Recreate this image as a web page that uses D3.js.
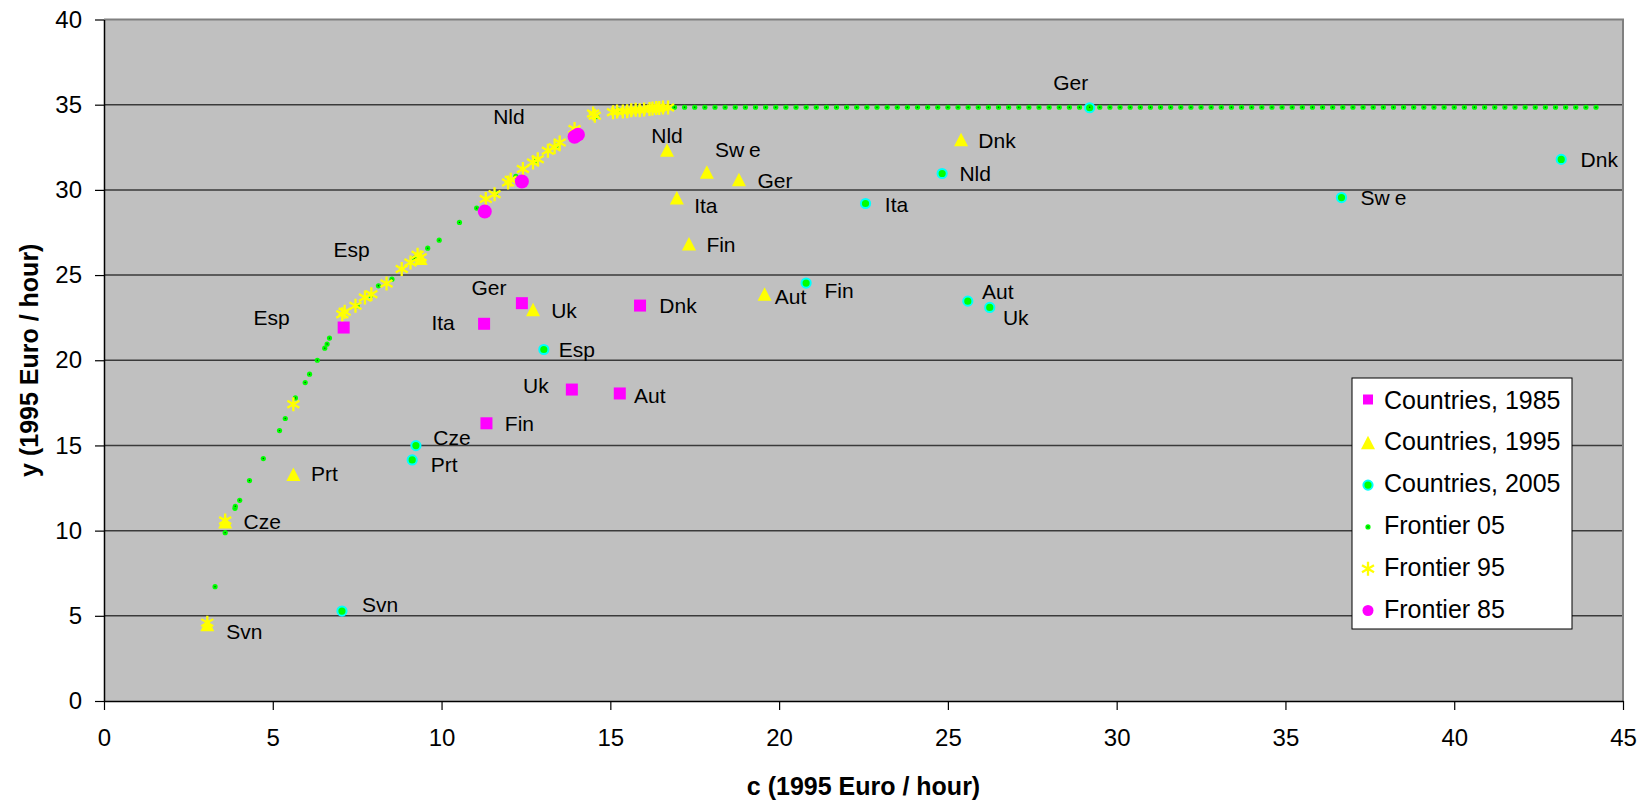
<!DOCTYPE html>
<html>
<head>
<meta charset="utf-8">
<script src="https://cdn.jsdelivr.net/npm/d3@7"></script>
<style>
  body { margin: 0; background: #fff; }
  svg text { font-family: "Liberation Sans", Arial, sans-serif; fill: #000; }
</style>
</head>
<body>
<div id="chart"></div>
<script>
// Countries, 1985
var names1985 = ["Esp", "Ita", "Ger", "Dnk", "Uk", "Aut", "Fin"];
var c1985 = [7.10, 11.26, 12.38, 15.88, 13.86, 15.28, 11.33];
var y1985 = [21.92, 22.14, 23.35, 23.21, 18.28, 18.05, 16.30];

// Countries, 1995
var names1995 = ["Esp", "Nld", "Swe", "Ger", "Ita", "Fin", "Aut", "Uk", "Dnk", "Prt", "Cze", "Svn"];
var c1995 = [9.38, 16.68, 17.86, 18.81, 16.97, 17.33, 19.57, 12.71, 25.39, 5.61, 3.59, 3.06];
var y1995 = [25.94, 32.30, 31.00, 30.57, 29.50, 26.80, 23.84, 22.94, 32.92, 13.27, 10.47, 4.44];

// Countries, 2005
var names2005 = ["Ger", "Nld", "Dnk", "Swe", "Aut", "Uk", "Ita", "Fin", "Esp", "Cze", "Prt", "Svn"];
var c2005 = [29.2, 24.83, 43.17, 36.66, 25.59, 26.24, 22.56, 20.80, 13.03, 9.24, 9.13, 7.05];
var y2005 = [34.82, 30.96, 31.79, 29.55, 23.47, 23.10, 29.20, 24.53, 20.63, 14.99, 14.15, 5.28];

// Frontier 05: rising part, then flat part at one level
var frontier05Curve = [
  [3.29, 6.71], [3.59, 9.88], [3.88, 11.31], [3.89, 11.43], [4.02, 11.78], [4.31, 12.94],
  [4.72, 14.23], [5.20, 15.87], [5.37, 16.58], [5.67, 17.79], [5.96, 18.69], [6.09, 19.18],
  [6.32, 20.00], [6.54, 20.71], [6.61, 20.95], [6.68, 21.30], [7.50, 23.20], [7.90, 23.80],
  [8.13, 24.37], [8.53, 24.76], [9.20, 26.00], [9.59, 26.58], [9.93, 27.05], [10.53, 28.09],
  [11.04, 28.93], [11.60, 29.80], [12.20, 30.80], [12.80, 31.70], [13.40, 32.60], [14.00, 33.40],
  [14.60, 34.30], [15.23, 34.70], [15.80, 34.75], [16.40, 34.82]
];
var frontier05FlatY = 34.85;
var frontier05FlatC = [
  16.9, 17.2, 17.5, 17.8, 18.1, 18.4, 18.7, 19.0, 19.3, 19.6,
  19.9, 20.2, 20.5, 20.8, 21.1, 21.4, 21.7, 22.0, 22.3, 22.6,
  22.9, 23.2, 23.5, 23.8, 24.1, 24.4, 24.7, 25.0, 25.3, 25.6,
  25.9, 26.2, 26.5, 26.8, 27.1, 27.4, 27.7, 28.0, 28.3, 28.6,
  28.9, 29.2, 29.5, 29.8, 30.1, 30.4, 30.7, 31.0, 31.3, 31.6,
  31.9, 32.2, 32.5, 32.8, 33.1, 33.4, 33.7, 34.0, 34.3, 34.6,
  34.9, 35.2, 35.5, 35.8, 36.1, 36.4, 36.7, 37.0, 37.3, 37.6,
  37.9, 38.2, 38.5, 38.8, 39.1, 39.4, 39.7, 40.0, 40.3, 40.6,
  40.9, 41.2, 41.5, 41.8, 42.1, 42.4, 42.7, 43.0, 43.3, 43.6,
  43.9, 44.2
];

// Frontier 95
var frontier95 = [
  [3.06, 4.60], [3.59, 10.60], [5.61, 17.42], [7.06, 22.70], [7.13, 22.85], [7.45, 23.20],
  [7.73, 23.68], [7.92, 23.88], [8.37, 24.50], [8.82, 25.35], [9.08, 25.74], [9.29, 26.19],
  [9.38, 26.05], [11.31, 29.46], [11.57, 29.75], [11.97, 30.43], [12.05, 30.60], [12.41, 31.22],
  [12.71, 31.61], [12.85, 31.80], [13.15, 32.30], [13.35, 32.50], [13.50, 32.78], [13.94, 33.57],
  [14.49, 34.48], [14.54, 34.35], [15.08, 34.55], [15.20, 34.60], [15.37, 34.60], [15.50, 34.62],
  [15.62, 34.68], [15.75, 34.70], [15.87, 34.68], [16.00, 34.72], [16.16, 34.74], [16.25, 34.78],
  [16.36, 34.80], [16.45, 34.80], [16.56, 34.84], [16.71, 34.84]
];

// Frontier 85 (the Nld 1985 point sits on it)
var frontier85 = [[11.28, 28.73], [12.38, 30.49], [13.94, 33.12], [14.04, 33.24]];
var names85 = ["", "", "", "Nld"];

var legendLabels = ["Countries, 1985", "Countries, 1995", "Countries, 2005", "Frontier 05", "Frontier 95", "Frontier 85"];

// label placement (pixels from the marker to the label centre)
var labelOffsets = {
  "1985": {Esp: [-72, -10], Ita: [-41, -1], Ger: [-33, -16], Dnk: [38, 0], Uk: [-36, -4], Aut: [30, 2], Fin: [33, 0]},
  "85": {Nld: [-69, -18]},
  "1995": {Esp: [-69, -10], Nld: [0, -15], Swe: [31, -23], Ger: [36, 0], Ita: [29, 7], Fin: [32, 0], Aut: [26, 2], Uk: [31, 0], Dnk: [36, 0], Prt: [31, -1], Cze: [37, -1], Svn: [37, 6]},
  "2005": {Ger: [-19, -25], Nld: [33, 0], Dnk: [38, 0], Swe: [42, 0], Aut: [30, -10], Uk: [26, 10], Ita: [31, 1], Fin: [33, 7], Esp: [33, 0], Cze: [36, -8], Prt: [32, 5], Svn: [38, -7]}
};

var width = 1646,
    height = 800;

var plotLeft = 104, plotRight = 1623, plotTop = 19.5, plotBottom = 701;

var x = d3.scaleLinear().domain([0, 45]).range([plotLeft, plotRight]);
var y = d3.scaleLinear().domain([0, 40]).range([plotBottom, plotTop]);

var svg = d3.select("#chart").append("svg")
    .attr("width", width)
    .attr("height", height);

// plot area
svg.append("rect")
    .attr("x", plotLeft).attr("y", plotTop)
    .attr("width", plotRight - plotLeft).attr("height", plotBottom - plotTop)
    .attr("fill", "#c0c0c0");

// gridlines
svg.append("g").selectAll("line")
    .data(y.ticks(8).filter(function(d){ return d > 0 && d < 40; }))
  .enter().append("line")
    .attr("x1", plotLeft).attr("x2", plotRight)
    .attr("y1", function(d){ return y(d); })
    .attr("y2", function(d){ return y(d); })
    .attr("stroke", "#3a3a3a")
    .attr("stroke-width", 1.5);

// top and right border
svg.append("path")
    .attr("d", "M" + plotLeft + "," + plotTop + "H" + plotRight + "V" + plotBottom)
    .attr("fill", "none")
    .attr("stroke", "#808080")
    .attr("stroke-width", 2);

// axes
var yAxis = svg.append("g")
    .attr("transform", "translate(" + plotLeft + ",0)")
    .call(d3.axisLeft(y).ticks(8).tickSize(9).tickPadding(13).tickSizeOuter(0));
var xAxis = svg.append("g")
    .attr("transform", "translate(0," + plotBottom + ")")
    .call(d3.axisBottom(x).ticks(9).tickSize(9).tickPadding(19).tickSizeOuter(0));

[yAxis, xAxis].forEach(function(a){
  a.select(".domain").attr("stroke", "#000").attr("stroke-width", 1.5);
  a.selectAll(".tick line").attr("stroke", "#000").attr("stroke-width", 1.2);
  a.selectAll(".tick text")
      .style("font-family", "'Liberation Sans', Arial, sans-serif")
      .style("font-size", "24px")
      .attr("fill", "#000");
});

// axis titles
svg.append("text")
    .attr("x", (plotLeft + plotRight) / 2)
    .attr("y", 795)
    .attr("text-anchor", "middle")
    .style("font-size", "25px")
    .style("font-weight", "bold")
    .text("c (1995 Euro / hour)");

svg.append("text")
    .attr("transform", "translate(38," + ((plotTop + plotBottom) / 2) + ") rotate(-90)")
    .attr("text-anchor", "middle")
    .style("font-size", "25px")
    .style("font-weight", "bold")
    .text("y (1995 Euro / hour)");

// marker drawing helpers
function square(g, px, py){
  g.append("rect").attr("x", px - 6).attr("y", py - 6).attr("width", 12).attr("height", 12).attr("fill", "#ff00ff");
}
function triangle(g, px, py){
  g.append("path").attr("d", "M" + px + "," + (py - 7.5) + "L" + (px + 7) + "," + (py + 6) + "L" + (px - 7) + "," + (py + 6) + "Z").attr("fill", "#ffff00");
}
function ring(g, px, py){
  g.append("circle").attr("cx", px).attr("cy", py).attr("r", 4.6).attr("fill", "#00ff00").attr("stroke", "#00ffff").attr("stroke-width", 2);
}
function dot(g, px, py){
  g.append("circle").attr("cx", px).attr("cy", py).attr("r", 2.6).attr("fill", "#00ff00");
  g.append("circle").attr("cx", px).attr("cy", py).attr("r", 0.7).attr("fill", "#005500");
}
function star(g, px, py){
  g.append("path")
      .attr("transform", "translate(" + px + "," + py + ")")
      .attr("d", "M0,-7V7M-6,-3.5L6,3.5M-6,3.5L6,-3.5")
      .attr("stroke", "#ffff00").attr("stroke-width", 2.3).attr("fill", "none");
}
function bigDot(g, px, py){
  g.append("circle").attr("cx", px).attr("cy", py).attr("r", 7).attr("fill", "#ff00ff");
}

var marks = svg.append("g");

c1985.forEach(function(c, i){ square(marks, x(c), y(y1985[i])); });
c1995.forEach(function(c, i){ triangle(marks, x(c), y(y1995[i])); });
c2005.forEach(function(c, i){ ring(marks, x(c), y(y2005[i])); });
frontier05Curve.forEach(function(d){ dot(marks, x(d[0]), y(d[1])); });
frontier05FlatC.forEach(function(c){ dot(marks, x(c), y(frontier05FlatY)); });
frontier95.forEach(function(d){ star(marks, x(d[0]), y(d[1])); });
frontier85.forEach(function(d){ bigDot(marks, x(d[0]), y(d[1])); });

// data labels
var labels = svg.append("g").style("font-size", "21px");
function addLabels(names, cs, ys, key){
  names.forEach(function(n, i){
    if (!n) return;
    var off = labelOffsets[key][n];
    var t = labels.append("text")
        .attr("x", x(cs[i]) + off[0])
        .attr("y", y(ys[i]) + off[1])
        .attr("dy", "0.36em")
        .attr("text-anchor", "middle");
    if (n === "Swe") {
      t.append("tspan").text("Sw");
      t.append("tspan").attr("dx", 5).text("e");
    } else {
      t.text(n);
    }
  });
}
addLabels(names1985, c1985, y1985, "1985");
addLabels(names85, frontier85.map(function(d){ return d[0]; }), frontier85.map(function(d){ return d[1]; }), "85");
addLabels(names1995, c1995, y1995, "1995");
addLabels(names2005, c2005, y2005, "2005");

// legend
var legend = svg.append("g");
legend.append("rect")
    .attr("x", 1352).attr("y", 378)
    .attr("width", 220).attr("height", 251)
    .attr("fill", "#fff").attr("stroke", "#000").attr("stroke-width", 1);

var drawers = [square, triangle, ring, dot, star, bigDot];
legendLabels.forEach(function(l, i){
  var ly = 399.5 + i * 41.8;
  var g = legend.append("g");
  if (i === 0) {
    g.append("rect").attr("x", 1363).attr("y", ly - 5).attr("width", 10).attr("height", 10).attr("fill", "#ff00ff");
  } else if (i === 5) {
    g.append("circle").attr("cx", 1368).attr("cy", ly + 2).attr("r", 5.5).attr("fill", "#ff00ff");
  } else {
    drawers[i](g, 1368, ly + 2);
  }
  legend.append("text")
      .attr("x", 1384)
      .attr("y", ly)
      .attr("dy", "0.36em")
      .style("font-size", "25px")
      .text(l);
});
</script>
</body>
</html>
